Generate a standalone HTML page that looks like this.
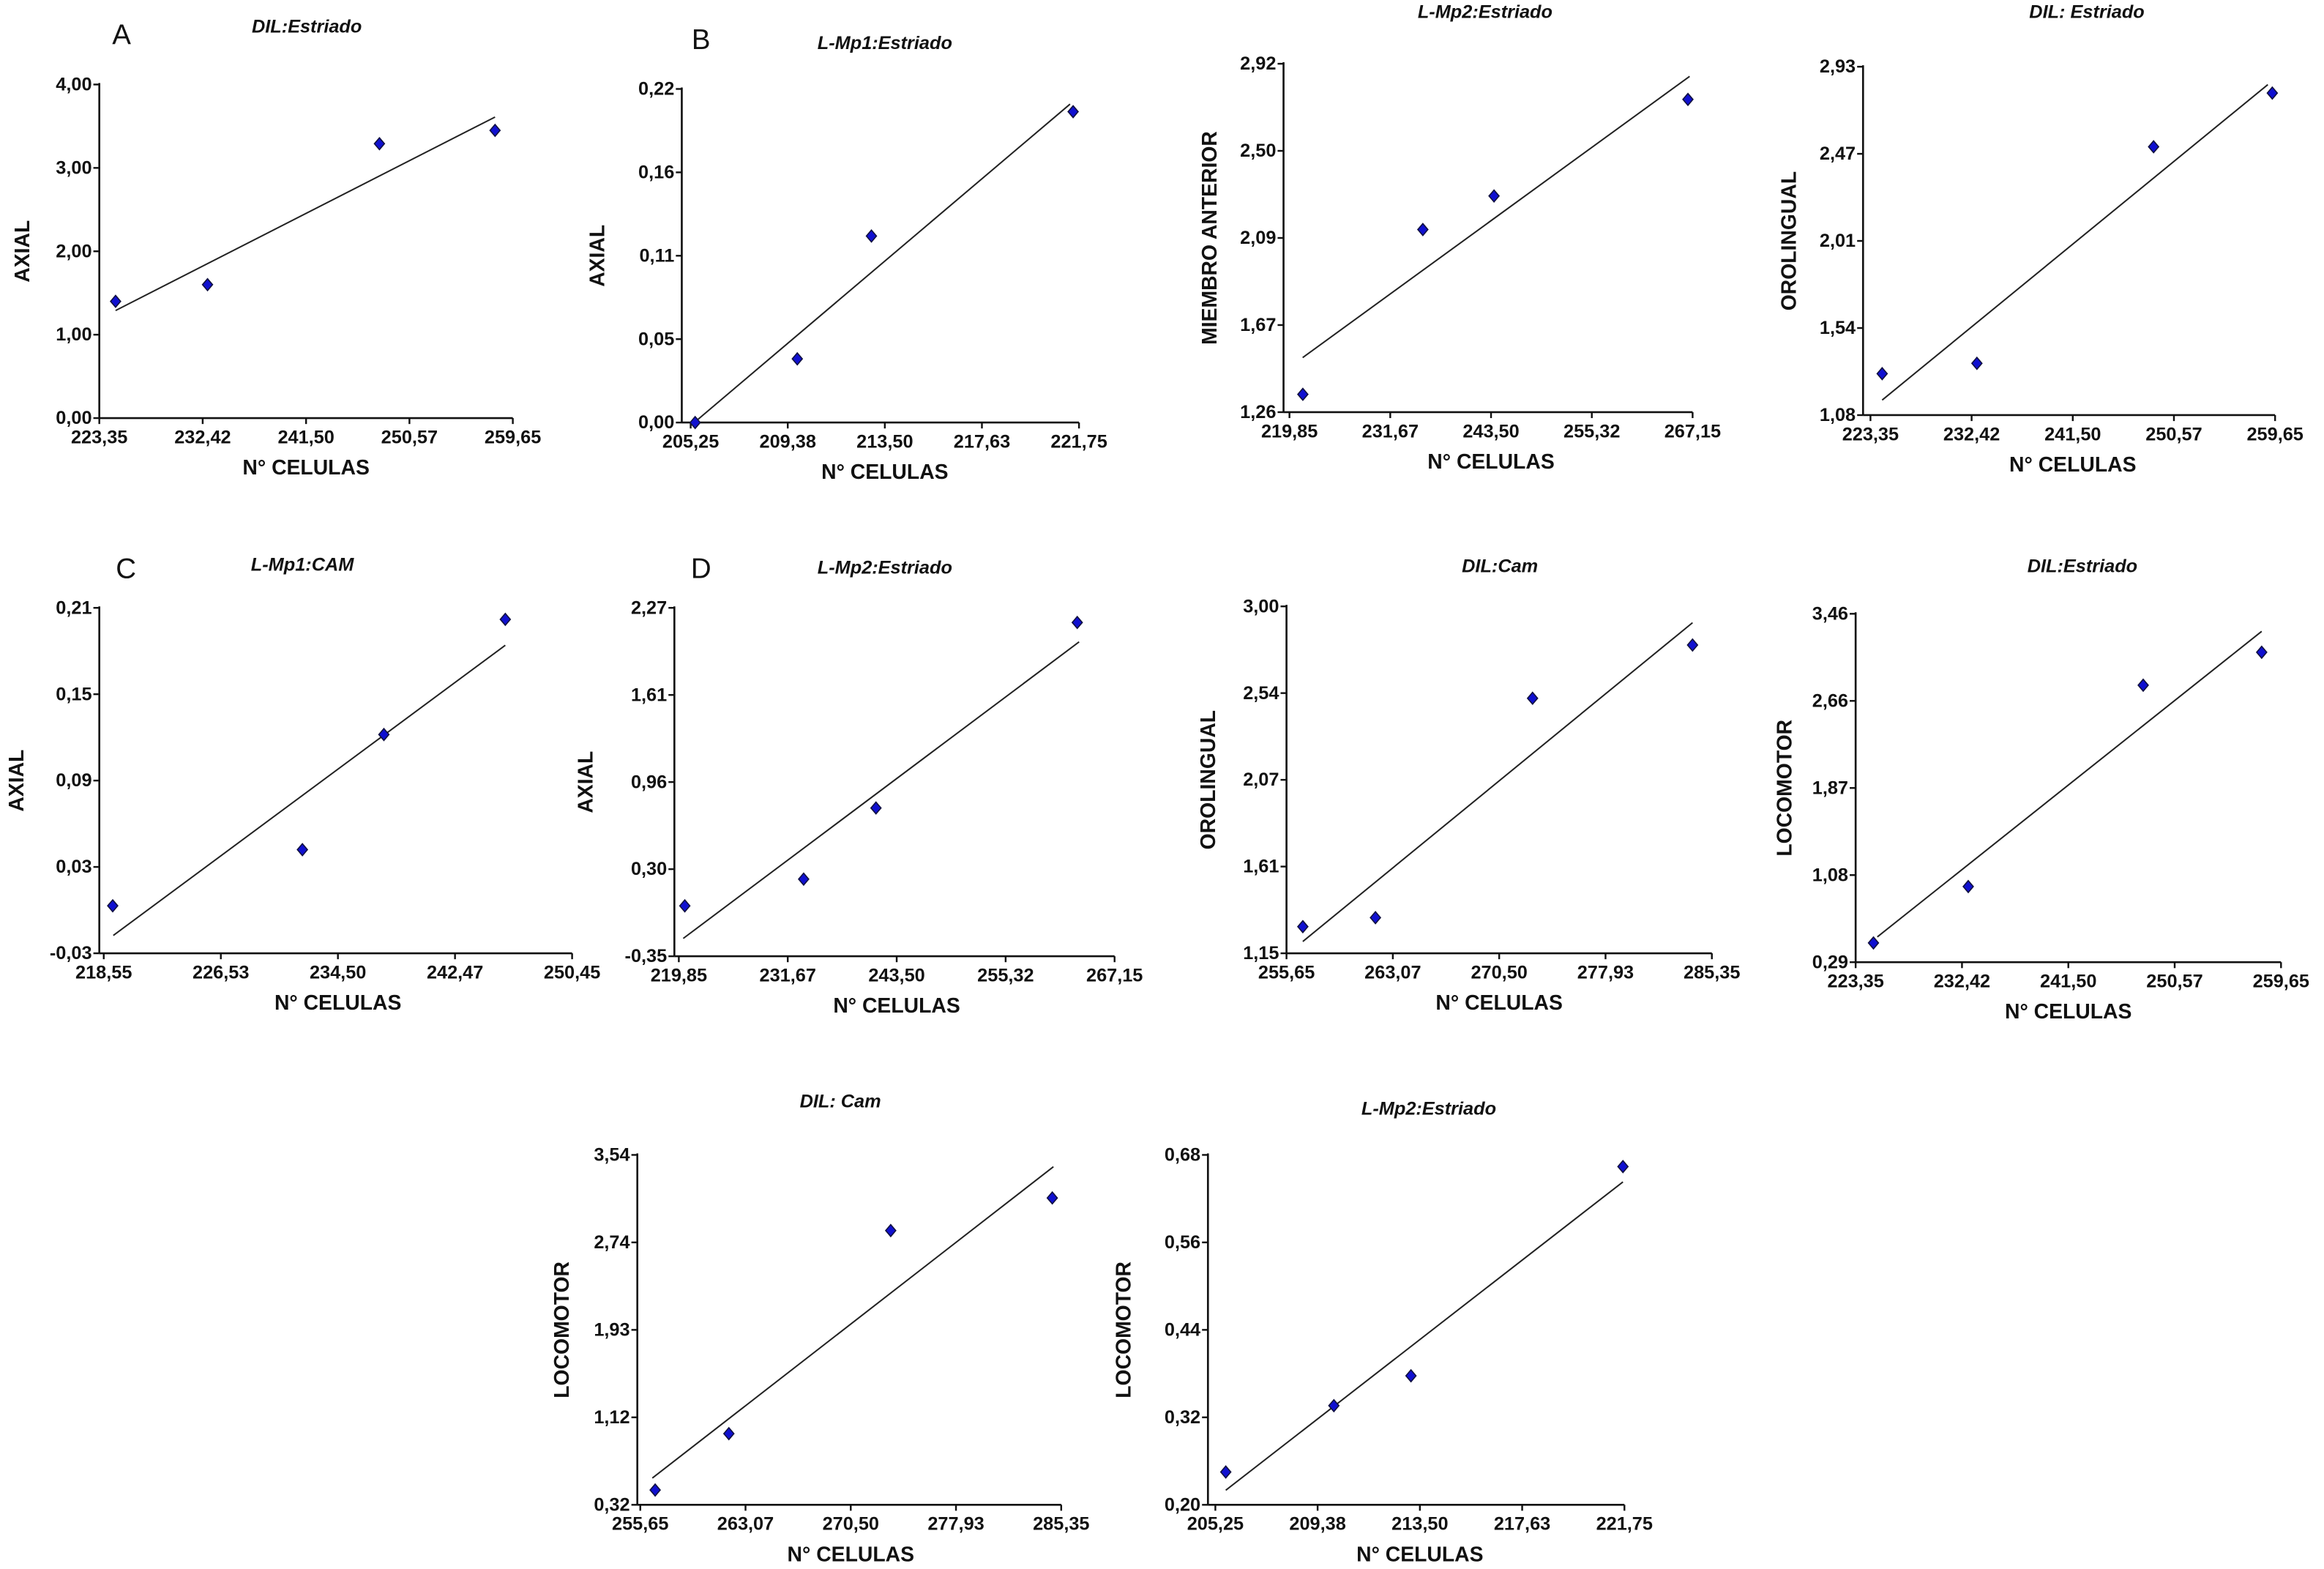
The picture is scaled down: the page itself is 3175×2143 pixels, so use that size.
<!DOCTYPE html>
<html><head><meta charset="utf-8"><style>
html,body{margin:0;padding:0;background:#fff;}
svg{display:block;}
text{font-family:"Liberation Sans",Arial,sans-serif;fill:#111;}
.tick{font-size:12.5px;font-weight:bold;}
.ttl{font-size:12.5px;font-weight:bold;font-style:italic;}
.ax{font-size:14px;font-weight:bold;}
.lbl{font-size:19px;}
</style></head><body>
<svg id="fig" xmlns="http://www.w3.org/2000/svg" width="3175" height="2143" viewBox="0 0 1568 1058.3" preserveAspectRatio="none"></svg>
<script>
// ---- data per panel (data units) ----
const titles = ["DIL:Estriado","L-Mp1:Estriado","L-Mp2:Estriado","DIL: Estriado","L-Mp1:CAM","L-Mp2:Estriado","DIL:Cam","DIL:Estriado","DIL: Cam","L-Mp2:Estriado"];
const yTitles = ["AXIAL","AXIAL","MIEMBRO ANTERIOR","OROLINGUAL","AXIAL","AXIAL","OROLINGUAL","LOCOMOTOR","LOCOMOTOR","LOCOMOTOR"];
const panelLetters = ["A","B","","","C","D","","","",""];
const xTickLabels = [
 ["223,35","232,42","241,50","250,57","259,65"],
 ["205,25","209,38","213,50","217,63","221,75"],
 ["219,85","231,67","243,50","255,32","267,15"],
 ["223,35","232,42","241,50","250,57","259,65"],
 ["218,55","226,53","234,50","242,47","250,45"],
 ["219,85","231,67","243,50","255,32","267,15"],
 ["255,65","263,07","270,50","277,93","285,35"],
 ["223,35","232,42","241,50","250,57","259,65"],
 ["255,65","263,07","270,50","277,93","285,35"],
 ["205,25","209,38","213,50","217,63","221,75"]];
const yTickLabels = [
 ["0,00","1,00","2,00","3,00","4,00"],
 ["0,00","0,05","0,11","0,16","0,22"],
 ["1,26","1,67","2,09","2,50","2,92"],
 ["1,08","1,54","2,01","2,47","2,93"],
 ["-0,03","0,03","0,09","0,15","0,21"],
 ["-0,35","0,30","0,96","1,61","2,27"],
 ["1,15","1,61","2,07","2,54","3,00"],
 ["0,29","1,08","1,87","2,66","3,46"],
 ["0,32","1,12","1,93","2,74","3,54"],
 ["0,20","0,32","0,44","0,56","0,68"]];
const xRanges = [[223.35,259.65],[205.25,221.75],[219.85,267.15],[223.35,259.65],[218.55,250.45],[219.85,267.15],[255.65,285.35],[223.35,259.65],[255.65,285.35],[205.25,221.75]];
const yRanges = [[0,4],[0,0.22],[1.26,2.92],[1.08,2.93],[-0.03,0.21],[-0.35,2.27],[1.15,3.00],[0.29,3.46],[0.32,3.54],[0.20,0.68]];
const ptsX = [
 [224.78,232.85,247.94,258.09],
 [205.44,209.78,212.93,221.5],
 [221.42,235.5,243.85,266.6],
 [224.4,232.9,248.75,259.4],
 [219.16,232.08,237.63,245.9],
 [220.5,233.4,241.25,263.1],
 [256.79,261.86,272.83,284.0],
 [224.87,232.96,247.89,258.0],
 [256.7,261.9,273.32,284.72],
 [205.67,210.03,213.14,221.69]];
const ptsY = [
 [1.40,1.60,3.29,3.45],
 [0.0,0.042,0.123,0.205],
 [1.345,2.13,2.29,2.75],
 [1.30,1.355,2.505,2.79],
 [0.003,0.042,0.122,0.202],
 [0.029,0.23,0.765,2.16],
 [1.292,1.34,2.51,2.794],
 [0.465,0.978,2.81,3.11],
 [0.456,0.975,2.844,3.144],
 [0.245,0.336,0.377,0.664]];
const fitX = [[224.78,258.09],[205.25,221.37],[221.4,266.8],[224.4,259.0],[219.2,245.9],[220.33,263.3],[256.79,284.0],[225.2,258.0],[256.5,284.8],[205.67,221.69]];
const fitY = [[1.29,3.61],[-0.002,0.21],[1.52,2.86],[1.16,2.835],[-0.0176,0.184],[-0.216,2.014],[1.213,2.913],[0.52,3.30],[0.566,3.431],[0.22,0.643]];
// ---- layout (pixel geometry in viewBox units) ----
const layout = [
 {ax:67,x0:67,x1:346,yb:282,yt:57,tx:207,ty:22,ylx:16,lx:82,ly:30},
 {ax:460,x0:466,x1:728,yb:285,yt:60,tx:597,ty:33,ylx:404,lx:473,ly:33},
 {ax:866,x0:870,x1:1142,yb:278,yt:43,tx:1002,ty:12,ylx:817,lx:0,ly:0},
 {ax:1257,x0:1262,x1:1535,yb:280,yt:45,tx:1408,ty:12,ylx:1208,lx:0,ly:0},
 {ax:67,x0:70,x1:386,yb:643,yt:410,tx:204,ty:385,ylx:12,lx:85,ly:390},
 {ax:455,x0:458,x1:752,yb:645,yt:410,tx:597,ty:387,ylx:396,lx:473,ly:390},
 {ax:868,x0:868,x1:1155,yb:643,yt:409,tx:1012,ty:386,ylx:816,lx:0,ly:0},
 {ax:1252,x0:1252,x1:1539,yb:649,yt:414,tx:1405,ty:386,ylx:1205,lx:0,ly:0},
 {ax:430,x0:432,x1:716,yb:1015,yt:779,tx:567,ty:747,ylx:380,lx:0,ly:0},
 {ax:815,x0:820,x1:1096,yb:1015,yt:779,tx:964,ty:752,ylx:759,lx:0,ly:0}];
const NS="http://www.w3.org/2000/svg";
const svg=document.getElementById('fig');
function mk(tag,attrs,parent,txt){const e=document.createElementNS(NS,tag);for(const k in attrs)e.setAttribute(k,attrs[k]);if(txt!==undefined)e.textContent=txt;parent.appendChild(e);return e;}
layout.forEach((L,i)=>{
  const g=mk('g',{},svg);
  
  
  const xs=v=>L.x0+(v-xRanges[i][0])/(xRanges[i][1]-xRanges[i][0])*(L.x1-L.x0);
  const ys=v=>L.yb-(v-yRanges[i][0])/(yRanges[i][1]-yRanges[i][0])*(L.yb-L.yt);
  const t=mk('text',{x:L.tx,y:L.ty,'text-anchor':'middle',class:'ttl'},g,titles[i]);
  
  
  if(panelLetters[i]){const pl=mk('text',{x:L.lx,y:L.ly,'text-anchor':'middle',class:'lbl'},g,panelLetters[i]);
    
    }
  const ya=mk('line',{x1:L.ax,x2:L.ax,y1:L.yt-1,y2:L.yb,stroke:'#111','stroke-width':1.3},g);
  
  
  const xa=mk('line',{x1:L.ax,x2:L.x1,y1:L.yb,y2:L.yb,stroke:'#111','stroke-width':1.3},g);
  
  
  xTickLabels[i].forEach((lab,k)=>{
    const px=L.x0+k*(L.x1-L.x0)/4;
    mk('line',{x1:px,x2:px,y1:L.yb,y2:L.yb+4,stroke:'#111','stroke-width':1.2},g);
    const tt=mk('text',{x:px,y:L.yb+17,'text-anchor':'middle',class:'tick'},g,lab);
    
    
  });
  yTickLabels[i].forEach((lab,k)=>{
    const py=L.yb-k*(L.yb-L.yt)/4;
    mk('line',{x1:L.ax-4,x2:L.ax,y1:py,y2:py,stroke:'#111','stroke-width':1.2},g);
    const tt=mk('text',{x:L.ax-5,y:py+4,'text-anchor':'end',class:'tick'},g,lab);
    
    
  });
  const xl=mk('text',{x:(L.x0+L.x1)/2,y:L.yb+38,'text-anchor':'middle',class:'ax'},g,'N° CELULAS');
  
  
  const yc=(L.yb+L.yt)/2;
  const yl=mk('text',{x:L.ylx,y:yc,'text-anchor':'middle',class:'ax',transform:'rotate(-90 '+L.ylx+' '+yc+')','dominant-baseline':'middle'},g,yTitles[i]);
  
  
  const fl=mk('line',{x1:xs(fitX[i][0]),y1:ys(fitY[i][0]),x2:xs(fitX[i][1]),y2:ys(fitY[i][1]),stroke:'#222','stroke-width':1},g);
  
  
  ptsX[i].forEach((vx,k)=>{
    const cx=xs(vx),cy=ys(ptsY[i][k]),r=4;
    const d=mk('polygon',{points:`${cx},${cy-r} ${cx+r*0.85},${cy} ${cx},${cy+r} ${cx-r*0.85},${cy}`,fill:'#1010d0',stroke:'#101040','stroke-width':0.8},g);
    
    
  });
});
</script>
</body></html>
